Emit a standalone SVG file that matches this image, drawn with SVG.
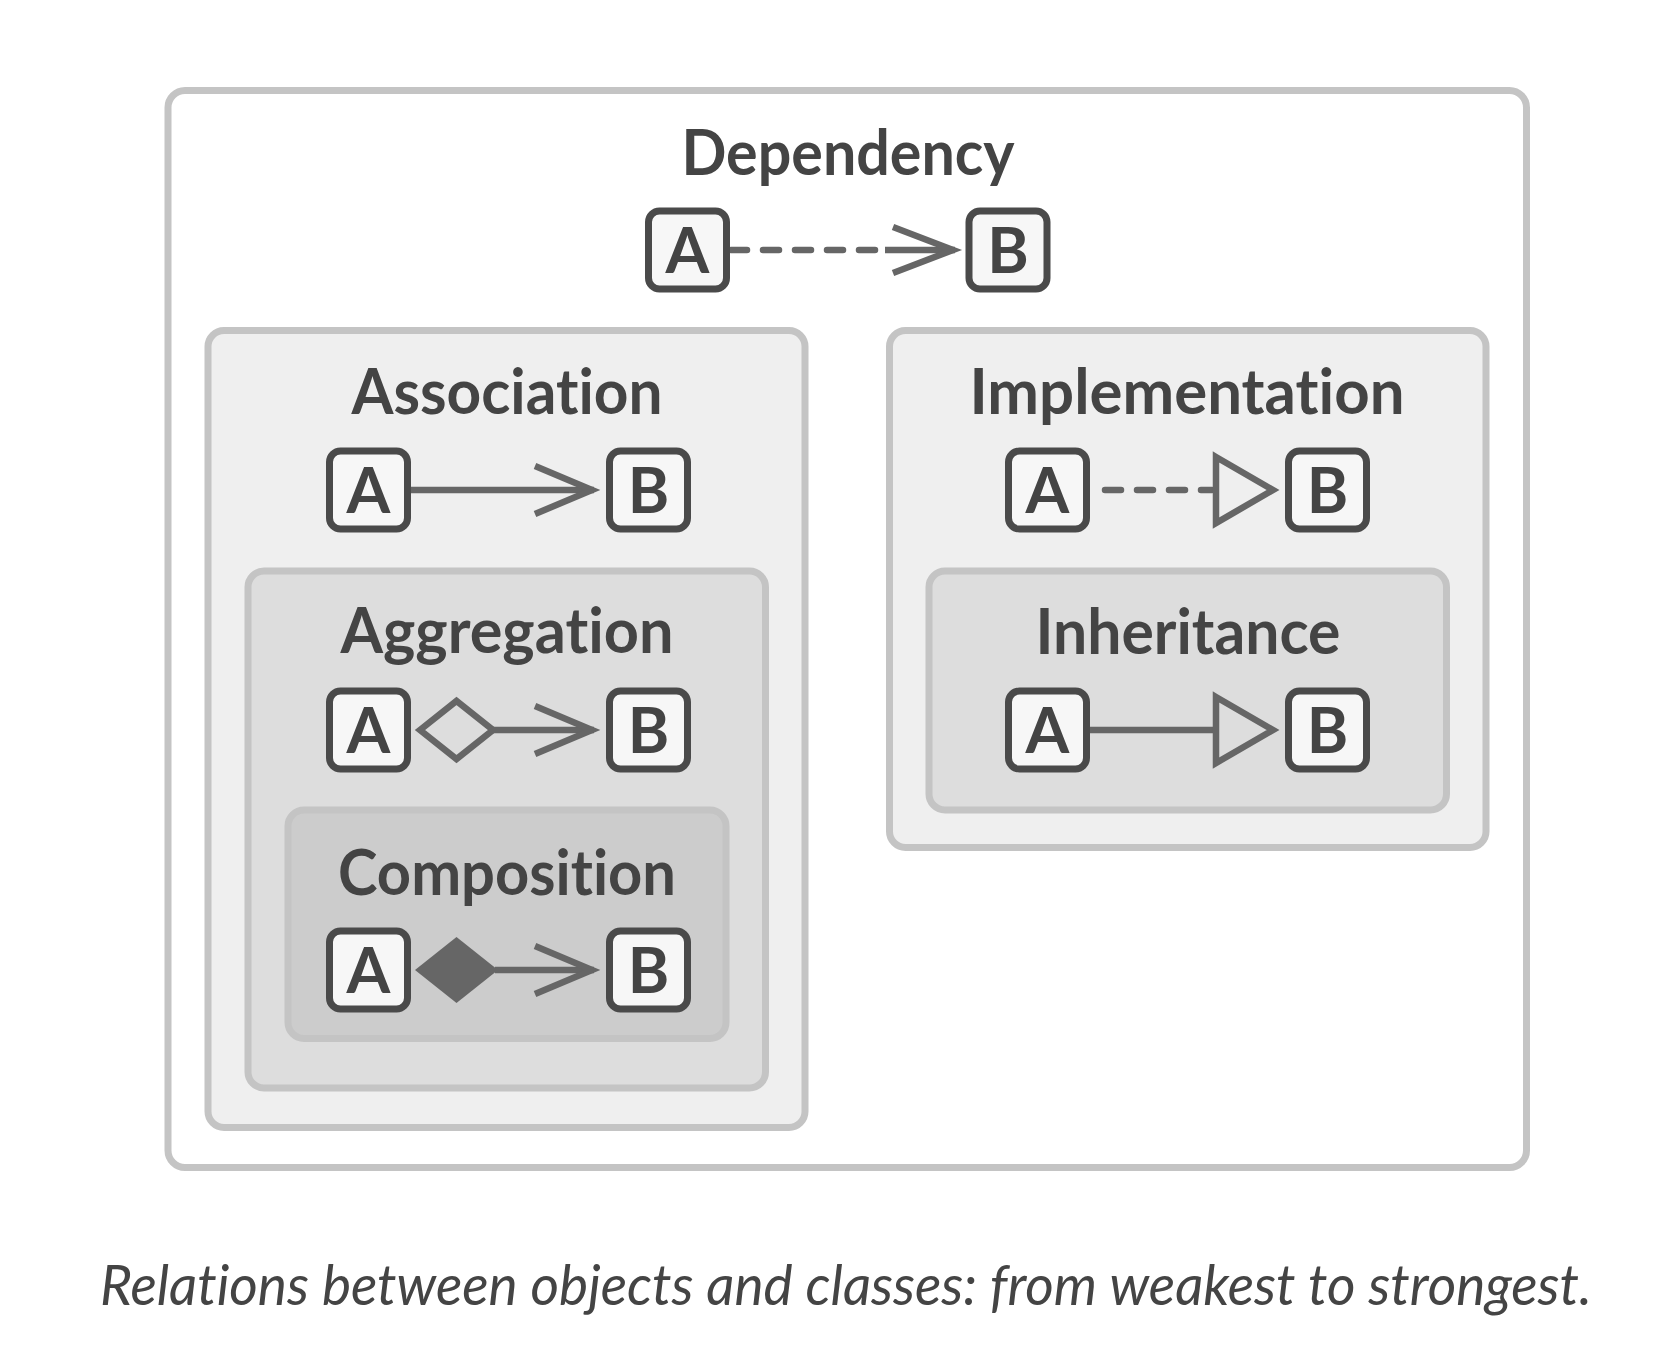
<svg xmlns="http://www.w3.org/2000/svg" width="1666" height="1360" viewBox="0 0 1666 1360">
<style>
text{font-variant-ligatures:none;font-feature-settings:"liga" 0,"clig" 0}
.frame{stroke:#c4c4c4;stroke-width:7}
.title{font-family:Lato,"Noto Sans","Liberation Sans",sans-serif;font-weight:700;font-size:63px;fill:#444;text-anchor:middle}
.cls rect{fill:#f7f7f7;stroke:#4a4a4a;stroke-width:7}
.cls text{font-family:Lato,"Noto Sans","Liberation Sans",sans-serif;font-weight:700;font-size:63px;fill:#444;text-anchor:middle}
.ln{fill:none;stroke:#666;stroke-width:6.5}
.dash{fill:none;stroke:#666;stroke-width:6.5;stroke-dasharray:16 16;stroke-linecap:round}
.caption{font-family:Lato,"Open Sans","Liberation Sans",sans-serif;font-style:italic;font-size:56px;fill:#444;text-anchor:middle}
</style>
<rect width="1666" height="1360" fill="#ffffff"/>

<g id="dependency-frame">
<rect class="frame" x="168" y="90.5" width="1358.5" height="1077" rx="17" fill="#ffffff"/>
<text class="title" x="848" y="175" textLength="333" lengthAdjust="spacingAndGlyphs">Dependency</text>
</g>
<g id="association-frame">
<rect class="frame" x="208" y="330.5" width="597" height="797" rx="16" fill="#efefef"/>
<text class="title" x="507" y="414" textLength="311" lengthAdjust="spacingAndGlyphs">Association</text>
</g>
<g id="aggregation-frame">
<rect class="frame" x="248" y="571" width="517.5" height="517" rx="16" fill="#dddddd"/>
<text class="title" x="507" y="653" textLength="333" lengthAdjust="spacingAndGlyphs">Aggregation</text>
</g>
<g id="composition-frame">
<rect class="frame" x="288" y="810" width="438" height="228.5" rx="16" fill="#cccccc"/>
<text class="title" x="507" y="895" textLength="338" lengthAdjust="spacingAndGlyphs">Composition</text>
</g>
<g id="implementation-frame">
<rect class="frame" x="889.5" y="330.5" width="596.5" height="517" rx="16" fill="#efefef"/>
<text class="title" x="1187" y="414" textLength="435" lengthAdjust="spacingAndGlyphs">Implementation</text>
</g>
<g id="inheritance-frame">
<rect class="frame" x="929" y="571" width="517.5" height="239" rx="16" fill="#dddddd"/>
<text class="title" x="1188" y="654" textLength="305" lengthAdjust="spacingAndGlyphs">Inheritance</text>
</g>

<g id="connectors">
<!-- dependency -->
<line class="dash" x1="731" y1="250" x2="880" y2="250"/>
<line class="ln" x1="885" y1="250" x2="955" y2="250"/>
<path class="ln" d="M893,227 L953,250 L893,273"/>
<!-- association -->
<line class="ln" x1="411" y1="490" x2="594" y2="490"/>
<path class="ln" d="M535,466 L592,490 L535,514"/>
<!-- aggregation -->
<path class="ln" d="M420,730 L456.5,701 L493,730 L456.5,759 Z"/>
<line class="ln" x1="493" y1="730" x2="594" y2="730"/>
<path class="ln" d="M535,706 L592,730 L535,754"/>
<!-- composition -->
<polygon points="415,970 456.5,937 498,970 456.5,1003" fill="#666"/>
<line class="ln" x1="495" y1="970" x2="594" y2="970"/>
<path class="ln" d="M535,946 L592,970 L535,994"/>
<!-- implementation -->
<line class="dash" x1="1105" y1="490" x2="1212" y2="490"/>
<path class="ln" d="M1216,457 L1273,490 L1216,523 Z"/>
<!-- inheritance -->
<line class="ln" x1="1090" y1="730" x2="1216" y2="730"/>
<path class="ln" d="M1216,697 L1273,730 L1216,763 Z"/>
</g>

<g id="dep-a" class="cls"><rect x="648.5" y="211" width="78" height="78" rx="11"/><text x="687.5" y="272.5">A</text></g>
<g id="dep-b" class="cls"><rect x="969" y="211" width="78" height="78" rx="11"/><text x="1008" y="272.5">B</text></g>
<g id="assoc-a" class="cls"><rect x="329.5" y="451" width="78" height="78" rx="11"/><text x="368.5" y="512.5">A</text></g>
<g id="assoc-b" class="cls"><rect x="609.5" y="451" width="78" height="78" rx="11"/><text x="648.5" y="512.5">B</text></g>
<g id="agg-a" class="cls"><rect x="329.5" y="691" width="78" height="78" rx="11"/><text x="368.5" y="752.5">A</text></g>
<g id="agg-b" class="cls"><rect x="609.5" y="691" width="78" height="78" rx="11"/><text x="648.5" y="752.5">B</text></g>
<g id="comp-a" class="cls"><rect x="329.5" y="931" width="78" height="78" rx="11"/><text x="368.5" y="992.5">A</text></g>
<g id="comp-b" class="cls"><rect x="609.5" y="931" width="78" height="78" rx="11"/><text x="648.5" y="992.5">B</text></g>
<g id="impl-a" class="cls"><rect x="1008.5" y="451" width="78" height="78" rx="11"/><text x="1047.5" y="512.5">A</text></g>
<g id="impl-b" class="cls"><rect x="1288.5" y="451" width="78" height="78" rx="11"/><text x="1327.5" y="512.5">B</text></g>
<g id="inh-a" class="cls"><rect x="1008.5" y="691" width="78" height="78" rx="11"/><text x="1047.5" y="752.5">A</text></g>
<g id="inh-b" class="cls"><rect x="1288.5" y="691" width="78" height="78" rx="11"/><text x="1327.5" y="752.5">B</text></g>

<text class="caption" x="846" y="1305" textLength="1492" lengthAdjust="spacingAndGlyphs">Relations between objects and classes: from weakest to strongest.</text>
</svg>
